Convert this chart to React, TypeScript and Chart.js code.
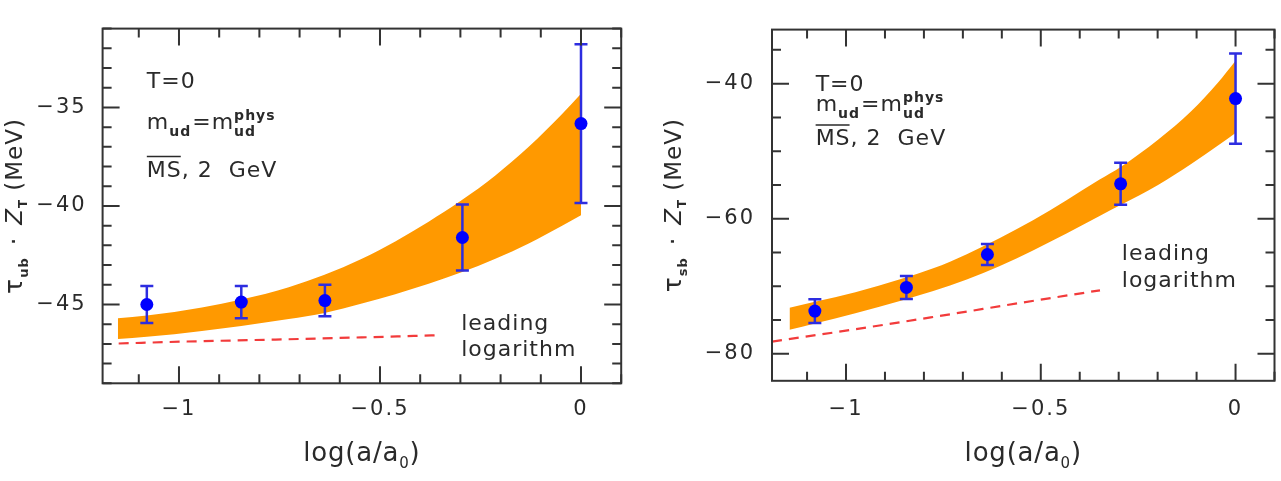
import React, { useEffect, useRef } from 'react';
import { Chart, registerables } from 'chart.js';

Chart.register(...registerables);

// ---------- data ----------
const latticeX = [-1.08, -0.845, -0.637, -0.295, 0];

const tauUbValues = [-45.0, -44.88, -44.8, -41.6, -35.82];
const tauUbErrors = [0.94, 0.82, 0.8, 1.67, 4.03];

const tauSbValues = [-73.68, -70.17, -65.3, -54.83, -42.22];
const tauSbErrors = [1.75, 1.7, 1.55, 3.11, 6.68];

const ubBandX = [-1.152, -1.08, -0.943, -0.845, -0.727, -0.638, -0.545, -0.462, -0.379, -0.299, -0.213, -0.13, -0.047, 0];
const ubBandUpper = [-45.7, -45.56, -45.15, -44.75, -44.12, -43.49, -42.68, -41.8, -40.8, -39.74, -38.45, -37.0, -35.34, -34.31];
const ubBandLower = [-46.75, -46.64, -46.34, -46.09, -45.74, -45.43, -44.95, -44.48, -43.95, -43.38, -42.68, -41.9, -41.0, -40.47];

const sbBandX = [-1.145, -1.08, -0.976, -0.857, -0.776, -0.69, -0.605, -0.52, -0.434, -0.349, -0.294, -0.199, -0.114, -0.046, 0];
const sbBandUpper = [-73.17, -72.3, -70.9, -68.9, -67.35, -65.25, -62.85, -60.23, -57.25, -54.2, -52.3, -48.3, -44.1, -39.9, -36.6];
const sbBandLower = [-76.44, -75.5, -74.0, -72.1, -70.7, -69.0, -67.0, -64.7, -62.2, -59.6, -57.95, -55.0, -51.9, -49.2, -47.3];

const ubLeadingLogX = [-1.15, -0.98, -0.76, -0.545, -0.35];
const ubLeadingLogY = [-46.98, -46.88, -46.78, -46.67, -46.56];

const sbLeadingLogX = [-1.19, -0.98, -0.76, -0.545, -0.348];
const sbLeadingLogY = [-78.2, -76.4, -74.4, -72.4, -70.6];

const xTickValues = [-1, -0.5, 0];
const ubYTickValues = [-45, -40, -35];
const sbYTickValues = [-80, -60, -40];

// ---------- styling ----------
const FONT = "'DejaVu Sans', 'Liberation Sans', sans-serif";
const TEXT = '#2a2a2a';
const ORANGE = '#ff9900';
const BLUE = '#0000ff';
const BAR_BLUE = '#2d2de0';
const RED = '#f23b3b';

type Seg = {
  t?: string;
  sup?: string;
  size?: number;
  dy?: number;
  supDy?: number;
  italic?: boolean;
  bold?: boolean;
  gap?: number;
  over?: boolean;
};

function setFont(ctx: CanvasRenderingContext2D, s: Seg) {
  ctx.font = `${s.italic ? 'italic ' : ''}${s.bold ? 'bold ' : ''}${s.size || 22}px ${FONT}`;
}

function segWidth(ctx: CanvasRenderingContext2D, s: Seg) {
  if (s.gap) return s.gap;
  setFont(ctx, s);
  let w = ctx.measureText(s.t || '').width;
  if (s.sup) w = Math.max(w, ctx.measureText(s.sup).width);
  return w;
}

function drawSegs(
  ctx: CanvasRenderingContext2D,
  x: number,
  y: number,
  segs: Seg[],
  center: boolean,
  spacing: number,
) {
  (ctx as any).letterSpacing = spacing + 'px';
  const widths = segs.map((s) => segWidth(ctx, s));
  const total = widths.reduce((a, b) => a + b, 0);
  let cx = center ? x - total / 2 : x;
  ctx.fillStyle = TEXT;
  ctx.textAlign = 'left';
  ctx.textBaseline = 'alphabetic';
  segs.forEach((s, i) => {
    if (!s.gap) {
      setFont(ctx, s);
      ctx.fillText(s.t || '', cx, y + (s.dy || 0));
      if (s.sup) ctx.fillText(s.sup, cx, y + (s.supDy || 0));
      if (s.over) {
        const size = s.size || 22;
        ctx.save();
        ctx.strokeStyle = TEXT;
        ctx.lineWidth = 1.5;
        ctx.beginPath();
        ctx.moveTo(cx, y - size * 0.73 - 4);
        ctx.lineTo(cx + widths[i] - spacing, y - size * 0.73 - 4);
        ctx.stroke();
        ctx.restore();
      }
    }
    cx += widths[i];
  });
  (ctx as any).letterSpacing = '0px';
}

type Panel = {
  width: number;
  xMin: number;
  xMax: number;
  yMin: number;
  yMax: number;
  yStep: number;
  yMinor: number;
  padTop: number;
  padRight: number;
  yAxisWidth: number;
  xAxisHeight: number;
  yLabelPad: number;
  xLabelPad: number;
  yTitleX: number;
  sub: string;
  values: number[];
  errors: number[];
  bandX: number[];
  bandUpper: number[];
  bandLower: number[];
  dashX: number[];
  dashY: number[];
  yTicks: number[];
  noteX: number;
  noteY: number[];
  leadX: number;
  leadY: number[];
};

const fmt = (v: number) => (v < 0 ? '\u2212' + String(Math.abs(v)) : String(v));

function makeConfig(p: Panel): any {
  const pts = latticeX.map((x, i) => ({ x, y: p.values[i] }));
  const up = p.bandX.map((x, i) => ({ x, y: p.bandUpper[i] }));
  const lo = p.bandX.map((x, i) => ({ x, y: p.bandLower[i] }));
  const dash = p.dashX.map((x, i) => ({ x, y: p.dashY[i] }));

  const decorations = {
    id: 'decorations',
    beforeDraw(chart: any) {
      (chart.ctx as any).letterSpacing = '2px';
    },
    beforeDatasetsDraw(chart: any) {
      (chart.ctx as any).letterSpacing = '0px';
    },
    beforeDatasetDraw(chart: any, args: any) {
      if (args.index !== 0) return;
      const ctx = chart.ctx as CanvasRenderingContext2D;
      const xs = chart.scales.x;
      const ys = chart.scales.y;
      ctx.save();
      ctx.strokeStyle = BAR_BLUE;
      ctx.lineWidth = 2.5;
      latticeX.forEach((xv, i) => {
        const px = xs.getPixelForValue(xv);
        const top = ys.getPixelForValue(p.values[i] + p.errors[i]);
        const bot = ys.getPixelForValue(p.values[i] - p.errors[i]);
        ctx.beginPath();
        ctx.moveTo(px, top);
        ctx.lineTo(px, bot);
        ctx.moveTo(px - 6.5, top);
        ctx.lineTo(px + 6.5, top);
        ctx.moveTo(px - 6.5, bot);
        ctx.lineTo(px + 6.5, bot);
        ctx.stroke();
      });
      ctx.restore();
    },
    afterDraw(chart: any) {
      const ctx = chart.ctx as CanvasRenderingContext2D;
      const a = chart.chartArea;
      const xs = chart.scales.x;
      const ys = chart.scales.y;
      ctx.save();
      // frame
      ctx.strokeStyle = '#333';
      ctx.lineWidth = 2;
      ctx.strokeRect(a.left, a.top, a.right - a.left, a.bottom - a.top);
      // ticks
      ctx.beginPath();
      const xStart = Math.ceil(p.xMin / 0.1 - 1e-6);
      const xEnd = Math.floor(p.xMax / 0.1 + 1e-6);
      for (let k = xStart; k <= xEnd; k++) {
        const v = k / 10;
        const major = Math.abs(v * 2 - Math.round(v * 2)) < 1e-6;
        const len = major ? 17 : 9;
        const px = xs.getPixelForValue(v);
        ctx.moveTo(px, a.bottom);
        ctx.lineTo(px, a.bottom - len);
        ctx.moveTo(px, a.top);
        ctx.lineTo(px, a.top + len);
      }
      const yStart = Math.ceil(p.yMin / p.yMinor - 1e-6);
      const yEnd = Math.floor(p.yMax / p.yMinor + 1e-6);
      for (let k = yStart; k <= yEnd; k++) {
        const v = k * p.yMinor;
        const major = Math.abs(v / p.yStep - Math.round(v / p.yStep)) < 1e-6;
        const len = major ? 17 : 9;
        const py = ys.getPixelForValue(v);
        ctx.moveTo(a.left, py);
        ctx.lineTo(a.left + len, py);
        ctx.moveTo(a.right, py);
        ctx.lineTo(a.right - len, py);
      }
      ctx.stroke();

      // annotations
      const nx = xs.getPixelForValue(p.noteX);
      drawSegs(ctx, nx, ys.getPixelForValue(p.noteY[0]), [{ t: 'T=0' }], false, 1);
      drawSegs(
        ctx,
        nx,
        ys.getPixelForValue(p.noteY[1]),
        [
          { t: 'm' },
          { t: 'ud', size: 14, bold: true, dy: 7 },
          { gap: 1 },
          { t: '=' },
          { t: 'm' },
          { t: 'ud', sup: 'phys', size: 14, bold: true, dy: 7, supDy: -9 },
        ],
        false,
        1,
      );
      drawSegs(ctx, nx, ys.getPixelForValue(p.noteY[2]), [{ t: 'MS', over: true }, { t: ', 2  GeV' }], false, 1);
      const lx = xs.getPixelForValue(p.leadX);
      drawSegs(ctx, lx, ys.getPixelForValue(p.leadY[0]), [{ t: 'leading' }], false, 1);
      drawSegs(ctx, lx, ys.getPixelForValue(p.leadY[1]), [{ t: 'logarithm' }], false, 1);

      // x title
      drawSegs(
        ctx,
        (a.left + a.right) / 2,
        461,
        [
          { t: 'log(a/a', size: 26 },
          { t: '0', size: 15, dy: 7 },
          { t: ')', size: 26 },
        ],
        true,
        0.8,
      );

      // y title (rotated)
      ctx.save();
      ctx.translate(p.yTitleX, (a.top + a.bottom) / 2);
      ctx.rotate(-Math.PI / 2);
      drawSegs(
        ctx,
        0,
        8,
        [
          { t: '\u03C4', size: 25 },
          { t: p.sub, size: 13, bold: true, dy: 6 },
          { gap: 12 },
          { t: '\u00B7', size: 24 },
          { gap: 12 },
          { t: 'Z', size: 23, italic: true },
          { t: 'T', size: 12, bold: true, dy: 5 },
          { gap: 8 },
          { t: '(MeV)', size: 23 },
        ],
        true,
        1,
      );
      ctx.restore();
      ctx.restore();
    },
  };

  return {
    type: 'line',
    data: {
      datasets: [
        {
          data: pts,
          showLine: false,
          pointRadius: 6.5,
          pointBackgroundColor: BLUE,
          pointBorderWidth: 0,
        },
        {
          data: dash,
          borderColor: RED,
          borderWidth: 2.2,
          borderDash: [10, 7],
          pointRadius: 0,
          fill: false,
          cubicInterpolationMode: 'monotone',
        },
        {
          data: up,
          borderWidth: 0,
          borderColor: ORANGE,
          backgroundColor: ORANGE,
          pointRadius: 0,
          fill: '+1',
          cubicInterpolationMode: 'monotone',
        },
        {
          data: lo,
          borderWidth: 0,
          borderColor: ORANGE,
          pointRadius: 0,
          fill: false,
          cubicInterpolationMode: 'monotone',
        },
      ],
    },
    options: {
      animation: false,
      responsive: false,
      maintainAspectRatio: false,
      events: [],
      layout: { padding: { top: p.padTop, right: p.padRight, left: 0, bottom: 0 } },
      plugins: { legend: { display: false }, tooltip: { enabled: false }, title: { display: false } },
      scales: {
        x: {
          type: 'linear',
          min: p.xMin,
          max: p.xMax,
          grid: { display: false, drawTicks: false },
          border: { display: false },
          afterBuildTicks: (s: any) => {
            s.ticks = xTickValues.map((v) => ({ value: v }));
          },
          ticks: {
            autoSkip: false,
            maxRotation: 0,
            padding: p.xLabelPad,
            color: TEXT,
            font: { family: FONT, size: 21 },
            callback: (v: number) => fmt(v),
          },
          afterFit: (s: any) => {
            s.height = p.xAxisHeight;
          },
        },
        y: {
          type: 'linear',
          min: p.yMin,
          max: p.yMax,
          grid: { display: false, drawTicks: false },
          border: { display: false },
          afterBuildTicks: (s: any) => {
            s.ticks = p.yTicks.map((v) => ({ value: v }));
          },
          ticks: {
            autoSkip: false,
            padding: p.yLabelPad,
            color: TEXT,
            font: { family: FONT, size: 21 },
            callback: (v: number) => fmt(v),
          },
          afterFit: (s: any) => {
            s.width = p.yAxisWidth;
          },
        },
      },
    },
    plugins: [decorations],
  };
}

const leftPanel: Panel = {
  width: 640,
  xMin: -1.19,
  xMax: 0.1,
  yMin: -49,
  yMax: -31,
  yStep: 5,
  yMinor: 1,
  padTop: 17.3,
  padRight: 18.8,
  yAxisWidth: 102.6,
  xAxisHeight: 97.7,
  yLabelPad: 16,
  xLabelPad: 14,
  yTitleX: 14,
  sub: 'ub',
  values: tauUbValues,
  errors: tauUbErrors,
  bandX: ubBandX,
  bandUpper: ubBandUpper,
  bandLower: ubBandLower,
  dashX: ubLeadingLogX,
  dashY: ubLeadingLogY,
  yTicks: ubYTickValues,
  noteX: -1.08,
  noteY: [-34.03, -36.09, -38.51],
  leadX: -0.298,
  leadY: [-46.3, -47.6],
};

const rightPanel: Panel = {
  width: 641,
  xMin: -1.19,
  xMax: 0.1,
  yMin: -84,
  yMax: -32,
  yStep: 20,
  yMinor: 5,
  padTop: 10.8,
  padRight: 5,
  yAxisWidth: 132,
  xAxisHeight: 100.2,
  yLabelPad: 17,
  xLabelPad: 16,
  yTitleX: 33,
  sub: 'sb',
  values: tauSbValues,
  errors: tauSbErrors,
  bandX: sbBandX,
  bandUpper: sbBandUpper,
  bandLower: sbBandLower,
  dashX: sbLeadingLogX,
  dashY: sbLeadingLogY,
  yTicks: sbYTickValues,
  noteX: -1.078,
  noteY: [-41.02, -44.08, -49.1],
  leadX: -0.292,
  leadY: [-66.08, -70.07],
};

function PanelChart({ panel, left }: { panel: Panel; left: number }) {
  const ref = useRef<HTMLCanvasElement | null>(null);
  useEffect(() => {
    if (!ref.current) return;
    const chart = new Chart(ref.current, makeConfig(panel));
    return () => chart.destroy();
  }, [panel]);
  return (
    <canvas
      ref={ref}
      width={panel.width}
      height={481}
      style={{ position: 'absolute', left, top: 0, width: panel.width, height: 481, display: 'block' }}
    />
  );
}

export default function App() {
  return (
    <div style={{ position: 'fixed', left: 0, top: 0, width: 1281, height: 481, background: '#fff', overflow: 'hidden' }}>
      <PanelChart panel={leftPanel} left={0} />
      <PanelChart panel={rightPanel} left={640} />
    </div>
  );
}
